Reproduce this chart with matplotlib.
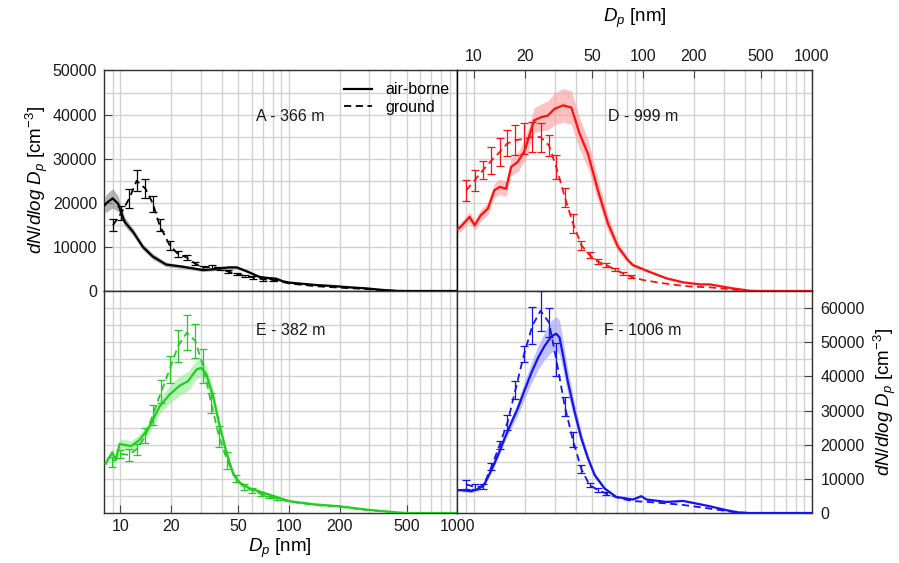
import matplotlib
matplotlib.use("Agg")
import matplotlib.pyplot as plt
from matplotlib.ticker import FixedLocator, FuncFormatter
from matplotlib.lines import Line2D
import numpy as np

plt.rcParams['font.family'] = ['Liberation Sans', 'DejaVu Sans']
plt.rcParams['mathtext.fontset'] = 'custom'
plt.rcParams['mathtext.rm'] = 'Liberation Sans'
plt.rcParams['mathtext.it'] = 'Liberation Sans:italic'

# ---------------- data ----------------
# Panel A - 366 m
A_air_dp = [8.1, 8.3, 9.0, 9.7, 10.1, 10.6, 11.9, 13.6, 15.6, 18.7, 23.5, 30.9, 35, 38.8, 44, 48.9, 56, 67, 75, 84, 92, 101, 146, 182, 229, 287, 363, 436, 500, 1000]
A_air_val = [19500, 20000, 21000, 19800, 17900, 15700, 13400, 10000, 7800, 6000, 5500, 4750, 4900, 5130, 5350, 5360, 4500, 3200, 2950, 2800, 2200, 1900, 1350, 1130, 840, 600, 230, 30, 0, 0]
A_air_sd = [1800, 2000, 2200, 1800, 1300, 1000, 800, 700, 650, 500, 400, 350, 350, 350, 350, 350, 300, 300, 250, 250, 250, 200, 200, 150, 150, 100, 80, 50, 0, 0]
A_gnd_dp = [9.04, 10.1, 11.3, 12.5, 14.1, 15.6, 17.1, 19.6, 22.0, 24.8, 27.6, 30.9, 35.2, 39.0, 43.5, 48.9, 54.6, 61.3, 70.2, 80.4, 101, 143, 203, 286, 360, 453, 1000]
A_gnd_val = [14900, 17600, 21000, 25000, 23200, 19800, 14900, 10400, 8370, 7600, 6270, 5360, 5500, 5050, 4450, 3850, 3400, 3100, 2650, 2500, 1700, 1100, 750, 450, 150, 0, 0]
A_gnd_err = [1400, 1600, 2070, 2400, 2200, 1800, 1360, 1000, 600, 600, 400, 400, 400, 400, 300, 300, 300, 300, 300, 250, 0, 0, 0, 0, 0, 0, 0]

# Panel D - 999 m
D_air_dp = [8.0, 8.42, 9.43, 10.1, 11.0, 12.1, 13.2, 14.2, 15.5, 16.6, 18.2, 20.0, 22.7, 25.0, 27.4, 30.0, 33.7, 37.7, 42.2, 47.3, 54.2, 62.1, 71.2, 81.5, 87, 109, 138, 173, 217, 249, 340, 428, 491, 1000]
D_air_val = [14000, 14700, 16800, 14900, 17200, 18700, 22800, 23600, 23200, 28100, 29300, 31900, 38700, 39400, 39800, 41300, 42100, 41600, 35700, 31100, 22800, 15300, 10000, 7000, 5900, 4370, 2870, 1970, 1500, 1500, 600, 70, 0, 0]
D_air_sd = [900, 1000, 1200, 1100, 1300, 1400, 1600, 1700, 1800, 2000, 2200, 2400, 2800, 3000, 3300, 3600, 3800, 3800, 3600, 3200, 2500, 1800, 1100, 600, 500, 300, 250, 200, 150, 150, 100, 50, 0, 0]
D_gnd_dp = [9.0, 10.1, 11.3, 12.7, 14.2, 15.8, 17.6, 19.8, 22.2, 24.8, 27.8, 30.7, 34.5, 38.5, 43.2, 48.3, 54.2, 60.7, 68, 76.2, 85.2, 100, 125, 157, 197, 249, 313, 394, 450, 1000]
D_gnd_val = [22800, 25100, 27400, 29600, 31500, 33500, 34200, 34500, 34900, 34900, 33000, 28100, 21300, 15400, 10400, 8150, 6630, 5880, 4900, 4000, 3240, 2490, 1890, 1360, 980, 830, 450, 70, 0, 0]
D_gnd_err = [2380, 2450, 2100, 3000, 3200, 3000, 3400, 3500, 3400, 3300, 2300, 2800, 2150, 2150, 1050, 700, 600, 500, 400, 300, 300, 0, 0, 0, 0, 0, 0, 0, 0, 0]

# Panel E - 382 m
E_air_dp = [8.2, 8.44, 8.96, 9.38, 9.9, 11.6, 13.0, 14.9, 17.1, 19.6, 22.5, 25.2, 28.3, 30.2, 32.4, 35.5, 38.9, 42.7, 46.6, 51.1, 58.6, 84, 101, 146, 200, 287, 452, 500, 1000]
E_air_val = [14500, 15700, 17700, 15500, 20200, 19600, 21400, 25300, 31200, 34700, 37300, 38600, 42000, 42500, 40600, 34200, 25300, 17500, 11600, 8840, 7190, 4710, 3450, 2470, 1970, 1000, 100, 0, 0]
E_air_sd = [1000, 1000, 1100, 1100, 1500, 1600, 1500, 1700, 2200, 2600, 2800, 2800, 2700, 2600, 2400, 2000, 1600, 1200, 900, 700, 500, 400, 300, 250, 200, 150, 50, 0, 0]
E_gnd_dp = [8.96, 10.0, 11.3, 12.5, 14.1, 15.6, 17.5, 19.6, 22.0, 24.8, 27.8, 31.0, 34.6, 38.5, 43.0, 48.3, 54.0, 60.7, 68, 76, 85, 101, 146, 200, 287, 452, 1000]
E_gnd_val = [15000, 17300, 17000, 18700, 22600, 28800, 35600, 42000, 48900, 52800, 50400, 43000, 32200, 22400, 15500, 10100, 7660, 6690, 5600, 4700, 4200, 3300, 2300, 1800, 900, 50, 0]
E_gnd_err = [1470, 1200, 1700, 1600, 2200, 2900, 3400, 3900, 4700, 5200, 4900, 4900, 2900, 3000, 2500, 1000, 800, 700, 500, 400, 300, 0, 0, 0, 0, 0, 0]

# Panel F - 1006 m
F_air_dp = [8.0, 8.42, 9.65, 10.6, 11.6, 12.7, 13.9, 15.2, 16.6, 18.2, 20.0, 21.9, 24.0, 26.2, 28.7, 30.7, 32.1, 33.6, 35.9, 39.4, 43.2, 47.3, 51.8, 59.3, 69.5, 87.2, 97.8, 105, 138, 173, 207, 249, 313, 375, 420, 1000]
F_air_val = [6700, 6690, 6390, 6980, 8660, 12600, 17000, 21900, 26300, 30700, 36100, 41100, 45500, 48900, 51700, 52500, 51400, 46400, 38600, 29700, 21900, 16000, 11100, 7190, 4710, 3950, 4920, 3950, 3240, 3530, 2770, 1970, 800, 100, 0, 0]
F_air_sd = [400, 400, 400, 500, 600, 700, 900, 1100, 1500, 2000, 2500, 3000, 3500, 4000, 4600, 5000, 5000, 4500, 3500, 2500, 1800, 1200, 800, 500, 300, 200, 200, 200, 150, 150, 150, 100, 80, 30, 0, 0]
F_gnd_dp = [9.0, 10.1, 11.3, 12.7, 14.2, 15.8, 17.6, 19.8, 22.2, 24.8, 27.8, 30.7, 34.5, 38.5, 43.2, 48.3, 54.2, 60.7, 72.8, 87, 109, 138, 173, 217, 272, 340, 430, 1000]
F_gnd_val = [8370, 7660, 7660, 13500, 19900, 26500, 36000, 46500, 54900, 59200, 55800, 45000, 31200, 21400, 12900, 8200, 6700, 5700, 4300, 3500, 3200, 2800, 2350, 1700, 1000, 300, 0, 0]
F_gnd_err = [1200, 700, 700, 1000, 1100, 2200, 2700, 2300, 5500, 5900, 4300, 4900, 2900, 2200, 1200, 500, 500, 400, 0, 0, 0, 0, 0, 0, 0, 0, 0, 0]

panel_labels = ["A - 366 m", "D - 999 m", "E - 382 m", "F - 1006 m"]
x_major = [10, 20, 50, 100, 200, 500, 1000]
x_minor = [9, 30, 40, 60, 70, 80, 90, 300, 400, 600, 700, 800, 900]

# ---------------- figure ----------------
W, H = 899, 563
fig = plt.figure(figsize=(W / 100, H / 100), dpi=100)
xl, xm, xr = 104, 457.5, 812
yt, ym, yb = 70.5, 291, 513
axA = fig.add_axes([xl / W, 1 - ym / H, (xm - xl) / W, (ym - yt) / H])
axD = fig.add_axes([xm / W, 1 - ym / H, (xr - xm) / W, (ym - yt) / H])
axE = fig.add_axes([xl / W, 1 - yb / H, (xm - xl) / W, (yb - ym) / H])
axF = fig.add_axes([xm / W, 1 - yb / H, (xr - xm) / W, (yb - ym) / H])

panels = [
    (axA, A_air_dp, A_air_val, A_air_sd, A_gnd_dp, A_gnd_val, A_gnd_err, 'black', '#8c8c8c', 50000),
    (axD, D_air_dp, D_air_val, D_air_sd, D_gnd_dp, D_gnd_val, D_gnd_err, '#ff1010', '#ffa0a0', 50000),
    (axE, E_air_dp, E_air_val, E_air_sd, E_gnd_dp, E_gnd_val, E_gnd_err, '#22cc22', '#98f098', 65000),
    (axF, F_air_dp, F_air_val, F_air_sd, F_gnd_dp, F_gnd_val, F_gnd_err, '#1414f0', '#a0a0ff', 65000),
]

fmt = FuncFormatter(lambda v, p: f'{v:g}')
tick_fs = 11.5
for i, (ax, adp, aval, asd, gdp, gval, gerr, col, bcol, ymax) in enumerate(panels):
    ax.set_xscale('log')
    ax.set_xlim(8, 1000)
    ax.set_ylim(0, ymax)
    ax.xaxis.set_major_locator(FixedLocator(x_major))
    ax.xaxis.set_minor_locator(FixedLocator(x_minor))
    ax.xaxis.set_major_formatter(fmt)
    ax.xaxis.set_minor_formatter(FuncFormatter(lambda v, p: ''))
    ax.yaxis.set_major_locator(FixedLocator(np.arange(0, ymax + 1, 10000)))
    ax.yaxis.set_minor_locator(FixedLocator(np.arange(5000, ymax + 1, 10000)))
    ax.yaxis.set_major_formatter(fmt)
    ax.grid(which='both', color='#d2d2d2', linewidth=1.0, zorder=0)
    ax.set_axisbelow(True)
    ax.tick_params(which='minor', length=0)
    ax.tick_params(which='major', direction='in', length=6, color='#444',
                   labelsize=tick_fs, labelcolor='#1a1a1a',
                   left=False, right=False, top=False, bottom=False,
                   labelleft=False, labelright=False, labeltop=False, labelbottom=False)
    for s in ax.spines.values():
        s.set_color('#303030')
        s.set_linewidth(1.0)

    a = np.array(aval, float)
    sd = np.array(asd, float)
    ax.fill_between(adp, np.clip(a - sd, 0, None), a + sd, color=bcol, alpha=0.65, lw=0, zorder=2)
    ax.plot(adp, a, color=col, lw=1.6, zorder=4)
    ax.plot(gdp, gval, color=col, lw=1.3, linestyle=(0, (4, 2.5)), zorder=3)
    ge = np.array(gerr, float)
    m = ge > 0
    ax.errorbar(np.array(gdp)[m], np.array(gval)[m], yerr=ge[m], fmt='none',
                ecolor=col, elinewidth=0.9, capsize=3.2, capthick=0.9, zorder=3)

axA.tick_params(which='major', left=True, labelleft=True, pad=5)
axD.tick_params(which='major', top=True, labeltop=True, pad=5)
axE.tick_params(which='major', bottom=True, labelbottom=True, pad=4)
axF.tick_params(which='major', right=True, labelright=True, pad=6)
axF.yaxis.set_major_locator(FixedLocator(np.arange(0, 60001, 10000)))

axA.spines['right'].set_color('black')
axA.spines['bottom'].set_color('black')
axD.spines['bottom'].set_color('black')
axD.spines['left'].set_color('black')

# panel labels
pl_pos = [(axA, 0.527, 0.79), (axD, 0.523, 0.79), (axE, 0.527, 0.822), (axF, 0.523, 0.822)]
for (ax, px, py), lab in zip(pl_pos, panel_labels):
    ax.text(px, py, lab, transform=ax.transAxes, ha='center', va='center',
            fontsize=11.5, color='#1a1a1a')

# legend
handles = [Line2D([], [], color='black', lw=1.6),
           Line2D([], [], color='black', lw=1.3, linestyle=(0, (4, 2.5)))]
axA.legend(handles, ['air-borne', 'ground'], loc='upper right', frameon=False,
           fontsize=11.5, handlelength=1.8, handletextpad=0.8, labelspacing=0.15,
           borderaxespad=0.0, bbox_to_anchor=(0.995, 0.975))

ylab = r'$dN/dlog\ D_p$ [cm$^{-3}$]'
xlab = r'$D_p$ [nm]'
fig.text(37 / W, 1 - 180 / H, ylab, rotation=90, ha='center', va='center', fontsize=13.5)
fig.text(885 / W, 1 - 402 / H, ylab, rotation=90, ha='center', va='center', fontsize=13.5)
fig.text(280 / W, 1 - 548 / H, xlab, ha='center', va='center', fontsize=13.5)
fig.text(635 / W, 1 - 18 / H, xlab, ha='center', va='center', fontsize=13.5)

fig.savefig('out.png', dpi=100)
